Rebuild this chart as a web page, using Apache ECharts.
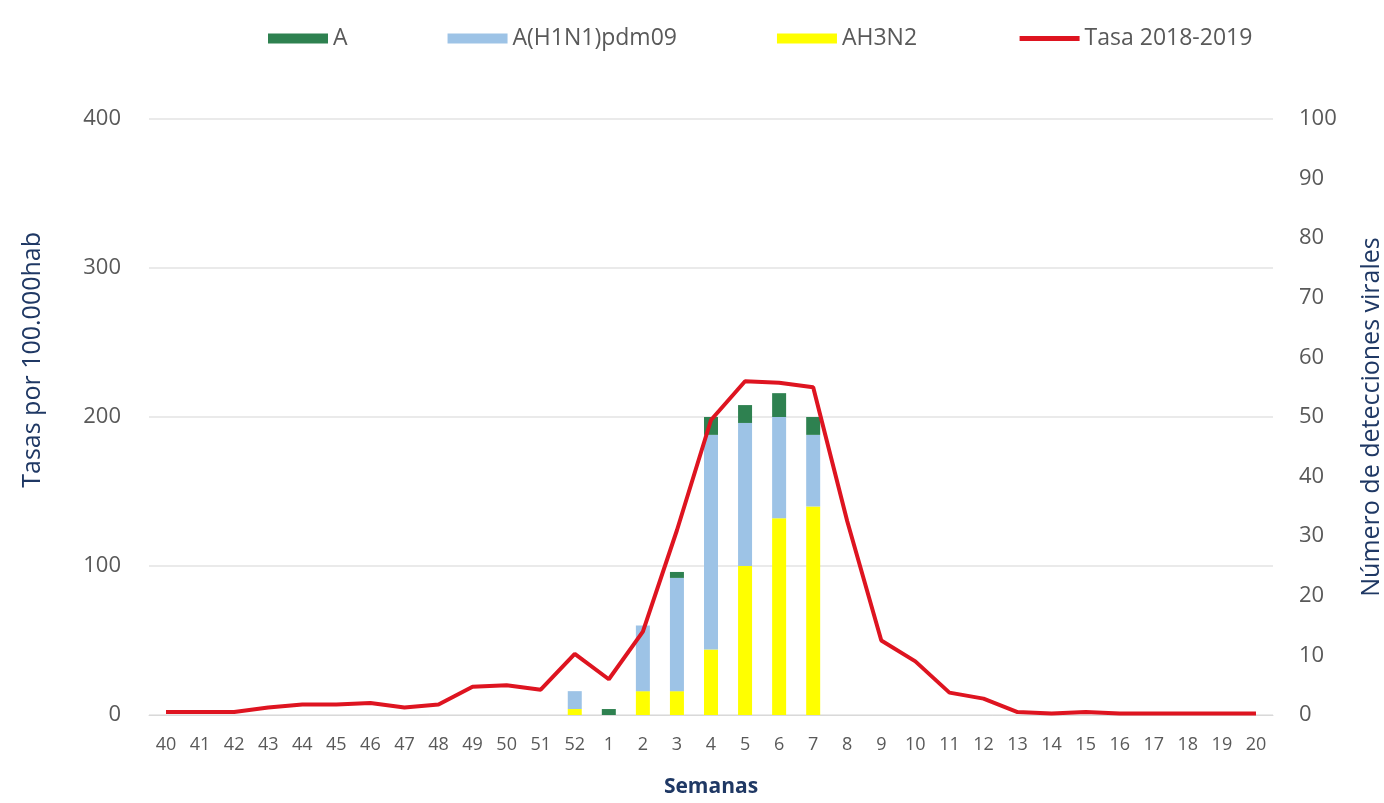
<!DOCTYPE html>
<html>
<head>
<meta charset="utf-8">
<title>Tasas semanales</title>
<script src="https://cdn.jsdelivr.net/npm/echarts@6/dist/echarts.min.js"></script>
<style>
  html, body { margin: 0; padding: 0; background: #fff; }
  #main { width: 1384px; height: 803px; }
</style>
</head>
<body>
<div id="main"></div>
<script>
// semanas epidemiológicas
const semanas = ['40','41','42','43','44','45','46','47','48','49','50','51','52',
  '1','2','3','4','5','6','7','8','9','10','11','12','13','14','15','16','17','18','19','20'];

// detecciones virales (eje derecho)
const serieA = [0,0,0,0,0,0,0,0,0,0,0,0,0, 1,0,1,3,3,4,3,0,0,0,0,0,0,0,0,0,0,0,0,0];
const serieH1N1 = [0,0,0,0,0,0,0,0,0,0,0,0,3, 0,11,19,36,24,17,12,0,0,0,0,0,0,0,0,0,0,0,0,0];
const serieH3N2 = [0,0,0,0,0,0,0,0,0,0,0,0,1, 0,4,4,11,25,33,35,0,0,0,0,0,0,0,0,0,0,0,0,0];

// tasa por 100.000 hab (eje izquierdo)
const tasa = [2,2,2,5,7,7,8,5,7,19,20,17,41, 24,56,124,198,224,223,220,130,50,36,15,11,2,1,2,1,1,1,1,1];

const ticksIzq = [0, 400, 100];
const ticksDer = [0, 100, 10];

const gris = '#595959';
const azul = '#1f3864';
const rojo = '#de1420';
const fuente = 'Open Sans';

const chart = echarts.init(document.getElementById('main'));

const option = {
  backgroundColor: '#fff',
  textStyle: { fontFamily: fuente },
  legend: {
    top: 22,
    left: 263,
    itemWidth: 60,
    itemHeight: 10,
    itemGap: 100,
    data: [
      { name: 'A', icon: 'rect' },
      { name: 'A(H1N1)pdm09', icon: 'rect' },
      { name: 'AH3N2', icon: 'rect' },
      { name: 'Tasa 2018-2019', itemStyle: { opacity: 0 }, lineStyle: { width: 5, color: rojo } }
    ],
    textStyle: { color: gris, fontSize: 23, fontFamily: fuente }
  },
  grid: { left: 149, right: 111, top: 119, bottom: 88, outerBoundsMode: 'none' },
  xAxis: {
    type: 'category',
    data: semanas,
    name: 'Semanas',
    nameLocation: 'middle',
    nameGap: 62,
    nameTextStyle: { color: azul, fontSize: 21, fontWeight: 'bold' },
    axisLine: { lineStyle: { color: '#d9d9d9', width: 1 } },
    axisTick: { show: false },
    axisLabel: { color: gris, fontSize: 18, margin: 21, interval: 0 }
  },
  yAxis: [
    {
      type: 'value',
      min: ticksIzq[0], max: ticksIzq[1], interval: ticksIzq[2],
      axisLine: { show: false },
      axisTick: { show: false },
      axisLabel: { color: gris, fontSize: 22, margin: 28 },
      splitLine: { lineStyle: { color: '#e3e3e3', width: 1.5 } }
    },
    {
      type: 'value',
      min: ticksDer[0], max: ticksDer[1], interval: ticksDer[2],
      name: 'Número de detecciones virales',
      nameLocation: 'middle',
      nameGap: 86,
      nameRotate: 90,
      nameTextStyle: { color: azul, fontSize: 25 },
      axisLine: { show: false },
      axisTick: { show: false },
      axisLabel: { color: gris, fontSize: 22, margin: 26 },
      splitLine: { show: false }
    }
  ],
  graphic: [{
    type: 'text',
    left: 20,
    top: 232,
    rotation: Math.PI / 2,
    style: {
      text: 'Tasas por 100.000hab',
      fill: azul,
      font: '25px "Open Sans"'
    }
  }],
  series: [
    {
      name: 'AH3N2', type: 'bar', stack: 'det', yAxisIndex: 1,
      barWidth: 14, itemStyle: { color: '#ffff00' }, data: serieH3N2
    },
    {
      name: 'A(H1N1)pdm09', type: 'bar', stack: 'det', yAxisIndex: 1,
      barWidth: 14, itemStyle: { color: '#9dc3e6' }, data: serieH1N1
    },
    {
      name: 'A', type: 'bar', stack: 'det', yAxisIndex: 1,
      barWidth: 14, itemStyle: { color: '#2e8150' }, data: serieA
    },
    {
      name: 'Tasa 2018-2019', type: 'line', yAxisIndex: 0,
      symbol: 'none', lineStyle: { color: rojo, width: 4 },
      itemStyle: { color: rojo }, data: tasa, z: 5
    }
  ]
};
chart.setOption(option);
</script>
</body>
</html>
